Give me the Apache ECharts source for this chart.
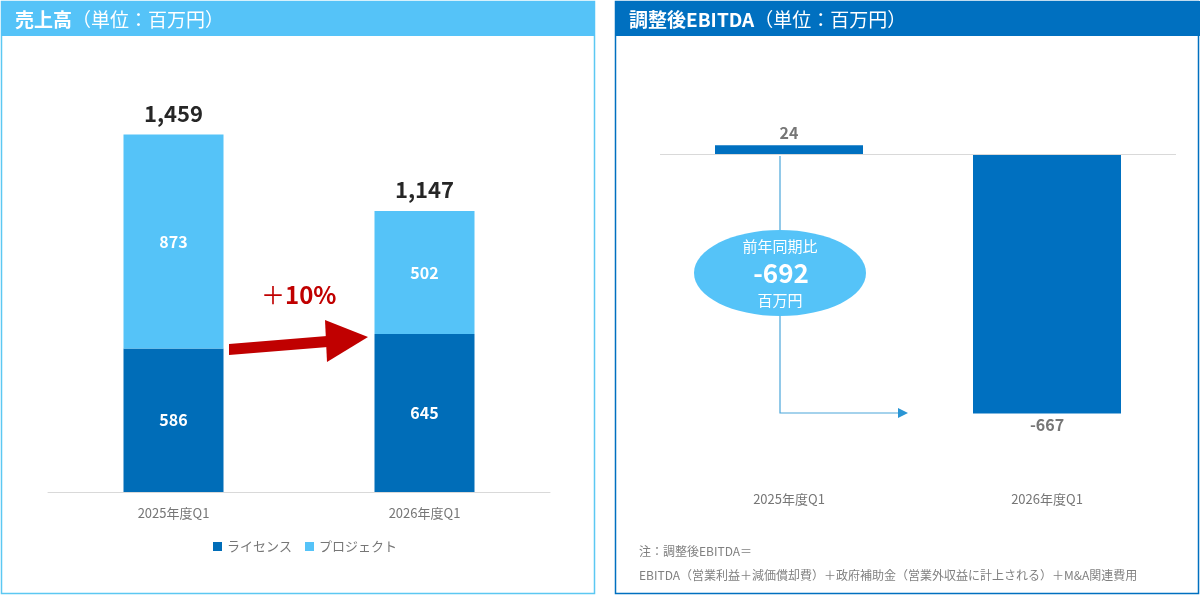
<!DOCTYPE html>
<html>
<head>
<meta charset="utf-8">
<script src="https://cdn.jsdelivr.net/npm/echarts@6/dist/echarts.min.js"></script>
<style>
  html, body { margin: 0; padding: 0; background: #fff; }
  #main { width: 1200px; height: 595px; }
</style>
</head>
<body>
<div id="main"></div>
<script>
var categories = ['2025年度Q1', '2026年度Q1'];
var licenseSales = [586, 645];
var projectSales = [873, 502];
var salesTotals = [1459, 1147];
var ebitda = [24, -667];
var ebitdaChange = '-692';
var salesGrowth = '10%';

var FONT = '"Noto Sans CJK JP", "Noto Sans", sans-serif';
var DARK = '#006db8';
var LIGHT = '#55c3f8';
var GRAY = '#767676';

var chart = echarts.init(document.getElementById('main'));

var option = {
  animation: false,
  textStyle: { fontFamily: FONT },
  title: [{
    left: 10, top: 5,
    text: '{b|売上高}{n|（単位：百万円）}',
    textStyle: {
      fontWeight: 'normal',
      rich: {
        b: { color: '#fff', fontSize: 19, fontWeight: 'bold', fontFamily: FONT },
        n: { color: '#fff', fontSize: 19, fontWeight: 'normal', fontFamily: FONT }
      }
    }
  }, {
    left: 624, top: 5,
    text: '{b|調整後EBITDA}{n|（単位：百万円）}',
    textStyle: {
      fontWeight: 'normal',
      rich: {
        b: { color: '#fff', fontSize: 19, fontWeight: 'bold', fontFamily: FONT },
        n: { color: '#fff', fontSize: 19, fontWeight: 'normal', fontFamily: FONT }
      }
    }
  }],
  legend: {
    data: ['ライセンス', 'プロジェクト'],
    left: 208, top: 535,
    icon: 'rect', itemWidth: 9, itemHeight: 9, itemGap: 13,
    textStyle: { color: GRAY, fontSize: 13, fontFamily: FONT }
  },
  grid: [
    { left: 48, top: 100, width: 502, height: 392 },
    { left: 660, top: 77, width: 516, height: 388 }
  ],
  xAxis: [{
    gridIndex: 0, type: 'category', data: categories,
    axisLine: { lineStyle: { color: '#d9d9d9' } },
    axisTick: { show: false },
    axisLabel: { color: GRAY, fontSize: 13, margin: 15 }
  }, {
    gridIndex: 1, type: 'category', data: categories,
    axisLine: { show: false, onZero: false },
    axisTick: { show: false },
    axisLabel: { color: GRAY, fontSize: 13, margin: 28 }
  }],
  yAxis: [{
    gridIndex: 0, type: 'value', min: 0, max: 1600, show: false
  }, {
    gridIndex: 1, type: 'value', min: -800, max: 200, show: false
  }],
  series: [{
    name: 'ライセンス', type: 'bar', stack: 'sales', barWidth: 100,
    xAxisIndex: 0, yAxisIndex: 0,
    itemStyle: { color: DARK },
    label: { show: true, position: 'inside', color: '#fff', fontSize: 16, fontWeight: 'bold' },
    data: licenseSales
  }, {
    name: 'プロジェクト', type: 'bar', stack: 'sales', barWidth: 100,
    xAxisIndex: 0, yAxisIndex: 0,
    itemStyle: { color: LIGHT },
    label: { show: true, position: 'inside', color: '#fff', fontSize: 16, fontWeight: 'bold' },
    data: projectSales
  }, {
    name: '合計', type: 'bar', barWidth: 100, barGap: '-100%',
    xAxisIndex: 0, yAxisIndex: 0, z: 1, silent: true,
    itemStyle: { color: 'transparent' },
    label: {
      show: true, position: 'top', distance: 10, color: '#262626',
      fontSize: 22, fontWeight: 'bold',
      formatter: function (p) { return p.value.toLocaleString('en-US'); }
    },
    data: salesTotals
  }, {
    name: '調整後EBITDA', type: 'bar', barWidth: 148,
    xAxisIndex: 1, yAxisIndex: 1,
    itemStyle: { color: '#0070c0' },
    label: { show: true, position: 'top', color: GRAY, fontSize: 16, fontWeight: 'bold', distance: 4 },
    data: ebitda.map(function (v) {
      return v < 0 ? { value: v, label: { position: 'bottom' } } : v;
    }),
    markLine: {
      silent: true, symbol: ['none', 'none'],
      label: { show: false },
      lineStyle: { color: '#d9d9d9', width: 1, type: 'solid' },
      data: [{ yAxis: 0 }]
    }
  }],
  graphic: [
    // panel frames and header bars
    { type: 'rect', z: -10, shape: { x: 1.5, y: 1.5, width: 593, height: 592 },
      style: { fill: '#fff', stroke: '#5cc8f2', lineWidth: 1.5 } },
    { type: 'rect', z: -9, shape: { x: 1, y: 1, width: 594, height: 35 }, style: { fill: LIGHT } },
    { type: 'rect', z: -10, shape: { x: 615.5, y: 1.5, width: 583, height: 592 },
      style: { fill: '#fff', stroke: '#0070c0', lineWidth: 1.5 } },
    { type: 'rect', z: -9, shape: { x: 615, y: 1, width: 585, height: 35 }, style: { fill: '#0070c0' } },
    // growth arrow
    { type: 'polygon', z: 10, shape: { points: [[229, 344], [327, 336], [328, 347], [229, 355]] },
      style: { fill: '#c00000' } },
    { type: 'polygon', z: 10, shape: { points: [[325, 320], [368, 337], [327, 362]] },
      style: { fill: '#c00000' } },
    { type: 'text', z: 10, left: 261, top: 283,
      style: {
        text: '{p|＋}{v|' + salesGrowth + '}',
        rich: {
          p: { fill: '#c00000', fontSize: 24, fontFamily: FONT },
          v: { fill: '#c00000', fontSize: 24, fontWeight: 'bold', fontFamily: FONT }
        }
      } },
    // change connector
    { type: 'polyline', z: 5, shape: { points: [[780, 156], [780, 413], [900, 413]] },
      style: { stroke: '#4aa6da', lineWidth: 1.2, fill: null } },
    { type: 'polygon', z: 5, shape: { points: [[898, 408], [908, 413], [898, 418]] },
      style: { fill: '#2a95d4' } },
    { type: 'ellipse', z: 6, shape: { cx: 780, cy: 273, rx: 86, ry: 43 }, style: { fill: LIGHT } },
    { type: 'text', z: 7, x: 780, y: 246,
      style: { text: '前年同期比', fill: '#fff', fontSize: 15, fontFamily: FONT, align: 'center', verticalAlign: 'middle' } },
    { type: 'text', z: 7, x: 781, y: 273,
      style: { text: ebitdaChange, fill: '#fff', fontSize: 26, fontWeight: 'bold', fontFamily: FONT, align: 'center', verticalAlign: 'middle' } },
    { type: 'text', z: 7, x: 780, y: 300,
      style: { text: '百万円', fill: '#fff', fontSize: 15, fontFamily: FONT, align: 'center', verticalAlign: 'middle' } },
    // footnote
    { type: 'text', x: 639, y: 551,
      style: { text: '注：調整後EBITDA＝', fill: '#808080', fontSize: 12, fontFamily: FONT, verticalAlign: 'middle' } },
    { type: 'text', x: 639, y: 575,
      style: { text: 'EBITDA（営業利益＋減価償却費）＋政府補助金（営業外収益に計上される）＋M&A関連費用', fill: '#808080', fontSize: 12, fontFamily: FONT, verticalAlign: 'middle' } }
  ]
};

chart.setOption(option);
</script>
</body>
</html>
